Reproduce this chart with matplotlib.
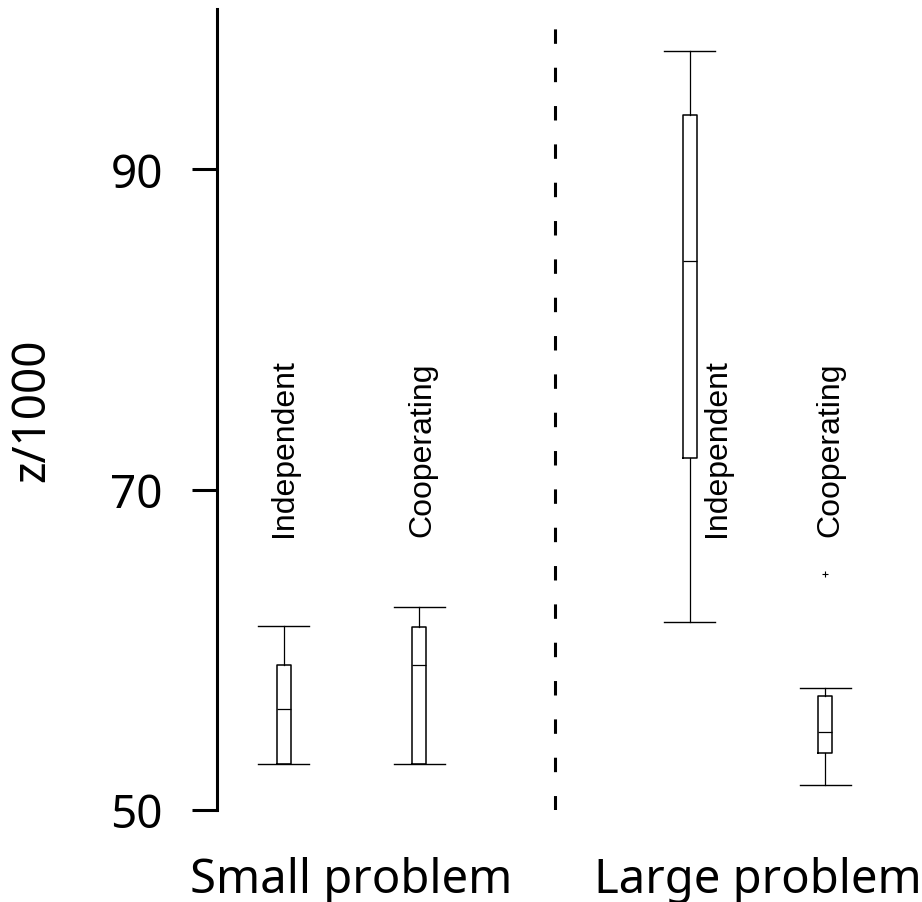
import matplotlib
matplotlib.use("Agg")
import matplotlib.pyplot as plt
import matplotlib.transforms as mtransforms

plt.rcParams['lines.scale_dashes'] = False

# ---- data ----
box_labels = ["Independent", "Cooperating", "Independent", "Cooperating"]
positions = [1, 2, 4, 5]
whislo = [52.89, 52.89, 61.75, 51.53]
q1 = [52.89, 52.89, 71.98, 53.56]
med = [56.30, 59.08, 84.25, 54.84]
q3 = [59.08, 61.45, 93.39, 57.11]
whishi = [61.48, 62.70, 97.35, 57.63]
fliers = [[], [], [], [64.74]]
label_x = [1.0, 2.02, 4.2, 5.04]
label_y = 67.1
group_names = ["Small problem", "Large problem"]
group_centers = [1.5, 4.5]
divider_x = 3
yticks = [50, 70, 90]

main_font = "Noto Sans"

fig = plt.figure(figsize=(9.22, 9.03), dpi=100)
ax = fig.add_axes([217/922, 1 - 811/903, 1 - 217/922, (811 - 10)/903])

stats = []
for i in range(len(positions)):
    stats.append(dict(whislo=whislo[i], q1=q1[i], med=med[i], q3=q3[i],
                      whishi=whishi[i], fliers=fliers[i]))

ax.bxp(stats, positions=positions, widths=0.103, capwidths=0.377,
       showfliers=True, patch_artist=False,
       boxprops=dict(color='black', linewidth=1.1),
       whiskerprops=dict(color='black', linewidth=0.9),
       capprops=dict(color='black', linewidth=1.0),
       medianprops=dict(color='black', linewidth=0.9),
       flierprops=dict(marker='+', markersize=5, markeredgecolor='black',
                       markeredgewidth=0.8, linestyle='none'))

ax.plot([divider_x, divider_x], [50, 100], color='black', linewidth=2.2,
        linestyle=(0, (10.4, 17.2)), solid_capstyle='butt', dash_capstyle='butt')

for x, lab in zip(label_x, box_labels):
    ax.text(x, label_y, lab, rotation=90, ha='center', va='bottom',
            fontsize=23, family='Liberation Sans')

ax.set_xlim(0.505, 5.716)
ax.set_ylim(50, 100)
ax.set_xticks([])
ax.set_yticks(yticks)
ax.set_yticklabels([str(v) for v in yticks], fontsize=33, family=main_font)
ax.tick_params(axis='y', length=18, width=2.2, pad=21)

for s in ['top', 'right', 'bottom']:
    ax.spines[s].set_visible(False)
ax.spines['left'].set_linewidth(2.2)

trans = mtransforms.blended_transform_factory(ax.transData, fig.transFigure)
for cx, name in zip(group_centers, group_names):
    ax.text(cx, 1 - 893/903, name, transform=trans, ha='center', va='baseline',
            fontsize=34, family=main_font, clip_on=False)

ax.set_ylabel("z/1000", fontsize=33, family=main_font)
ax.yaxis.label.set_va('center')
ax.yaxis.set_label_coords((32 - 217)/705, 0.5)

fig.savefig("out.png", dpi=100)
